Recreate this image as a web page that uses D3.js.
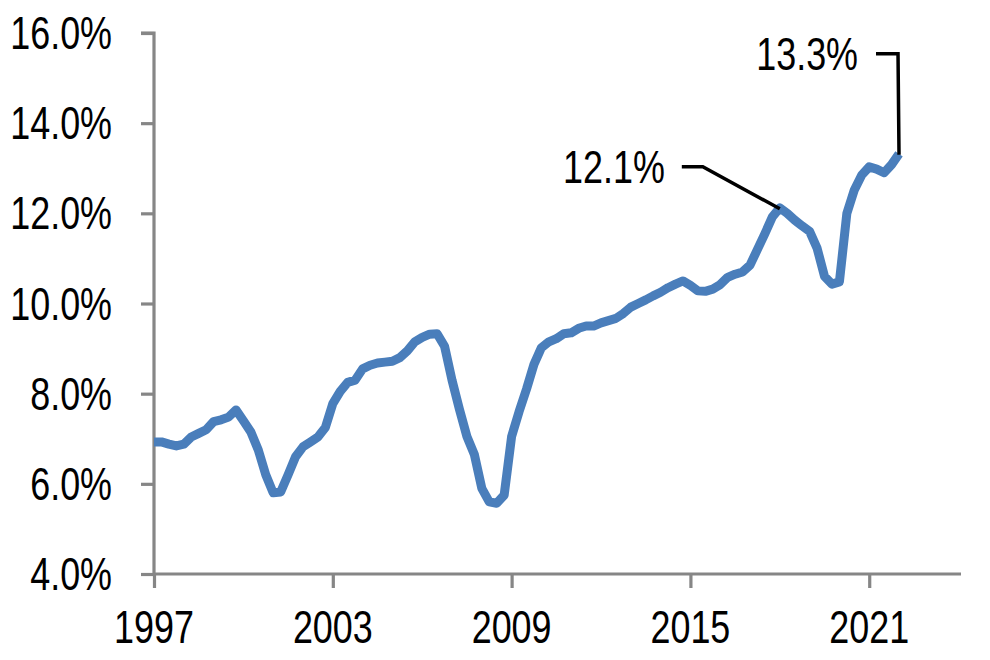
<!DOCTYPE html>
<html>
<head>
<meta charset="utf-8">
<script src="https://cdn.jsdelivr.net/npm/d3@7"></script>
<style>
  html, body { margin: 0; padding: 0; background: #fff; }
  svg { display: block; }
  text { font-family: "Liberation Sans", Arial, sans-serif; fill: #000; }
</style>
</head>
<body>
<svg id="chart" width="990" height="660"></svg>
<script>
// Quarterly series, 1997 Q1 .. 2022 Q1 (percent)
const startYear = 1997;
const values = [
  6.93, 6.93, 6.88, 6.84, 6.88, 7.04, 7.12, 7.20, 7.38, 7.42,
  7.48, 7.64, 7.40, 7.15, 6.75, 6.20, 5.80, 5.82, 6.20, 6.60,
  6.82, 6.93, 7.04, 7.25, 7.78, 8.05, 8.25, 8.30, 8.55, 8.63,
  8.68, 8.70, 8.72, 8.80, 8.95, 9.15, 9.25, 9.32, 9.33, 9.05,
  8.30, 7.65, 7.05, 6.65, 5.90, 5.60, 5.57, 5.75, 7.05, 7.60,
  8.10, 8.65, 9.02, 9.15, 9.22, 9.33, 9.35, 9.45, 9.50, 9.50,
  9.57, 9.62, 9.67, 9.78, 9.92, 10.00, 10.08, 10.17, 10.25, 10.35,
  10.43, 10.50, 10.40, 10.28, 10.27, 10.32, 10.42, 10.58, 10.65, 10.70,
  10.85, 11.20, 11.55, 11.92, 12.12, 12.00, 11.85, 11.72, 11.60, 11.23,
  10.60, 10.43, 10.48, 12.00, 12.52, 12.85, 13.03, 12.98, 12.90, 13.08,
  13.32
];
const xTickYears = [1997, 2003, 2009, 2015, 2021];
const yTicks = [4, 6, 8, 10, 12, 14, 16];
const annotations = [
  { year: 2018, value: 12.1, label: "12.1%" },
  { year: 2022, value: 13.3, label: "13.3%" }
];

const data = values.map((v, i) => ({ year: startYear + i / 4, value: v }));

const svg = d3.select("#chart");
const mLeft = 154, mRight = 961, mTop = 33, mBottom = 574;
const sx = 0.78; // horizontal squeeze of the glyphs
const fontSize = 46;

const x = d3.scaleLinear().domain([1997, 2024.08]).range([mLeft, mRight]);
const y = d3.scaleLinear().domain([4, 16]).range([mBottom, mTop]);

const axisColor = "#868686";

// Y axis
const yAxis = svg.append("g").attr("transform", `translate(${mLeft},0)`)
  .call(d3.axisLeft(y).tickValues(yTicks).tickSize(13).tickFormat(""));
yAxis.selectAll("path, line").attr("stroke", axisColor).attr("stroke-width", 3.2);
yAxis.select(".domain").attr("d", `M-13,${y(16)}H0V${y(4)}`);

// X axis
const xAxis = svg.append("g").attr("transform", `translate(0,${mBottom})`)
  .call(d3.axisBottom(x).tickValues(xTickYears).tickSize(14).tickFormat(""));
xAxis.selectAll("path, line").attr("stroke", axisColor).attr("stroke-width", 3.2);
xAxis.select(".domain").attr("d", `M${mLeft},0H${mRight}`);

// Y tick labels
svg.append("g").selectAll("text").data(yTicks).join("text")
  .attr("transform", d => `translate(112,${y(d) + 16}) scale(${sx},1)`)
  .attr("text-anchor", "end")
  .attr("font-size", fontSize)
  .text(d => d.toFixed(1) + "%");

// X tick labels
svg.append("g").selectAll("text").data(xTickYears).join("text")
  .attr("transform", d => `translate(${x(d)},643) scale(${sx},1)`)
  .attr("text-anchor", "middle")
  .attr("font-size", fontSize)
  .text(d => d);

// Line
const line = d3.line().x(d => x(d.year)).y(d => y(d.value));
svg.append("path").datum(data)
  .attr("d", line)
  .attr("fill", "none")
  .attr("stroke", "#4A7EBB")
  .attr("stroke-width", 9)
  .attr("stroke-linejoin", "round")
  .attr("stroke-linecap", "butt");

// Annotations
const a1 = annotations[0], a2 = annotations[1];
const p1 = [x(a1.year), y(a1.value)];
svg.append("path")
  .attr("d", `M${p1[0] - 98},${p1[1] - 42}H${p1[0] - 77}L${p1[0]},${p1[1]}`)
  .attr("fill", "none").attr("stroke", "#000").attr("stroke-width", 3.5);
svg.append("text")
  .attr("transform", `translate(${p1[0] - 115},${p1[1] - 26}) scale(${sx},1)`)
  .attr("text-anchor", "end").attr("font-size", fontSize).text(a1.label);

const p2 = [x(a2.year), y(a2.value)];
svg.append("path")
  .attr("d", `M${p2[0] - 23},${p2[1] - 101}H${p2[0] - 1}L${p2[0]},${p2[1]}`)
  .attr("fill", "none").attr("stroke", "#000").attr("stroke-width", 3.5);
svg.append("text")
  .attr("transform", `translate(${p2[0] - 41},${p2[1] - 85}) scale(${sx},1)`)
  .attr("text-anchor", "end").attr("font-size", fontSize).text(a2.label);
</script>
</body>
</html>
